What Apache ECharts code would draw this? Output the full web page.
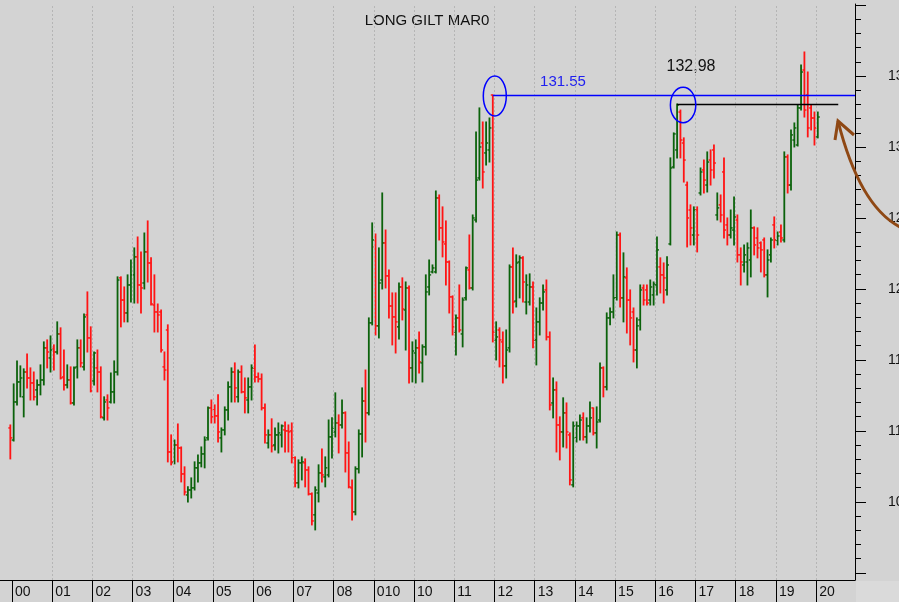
<!DOCTYPE html>
<html><head><meta charset="utf-8">
<script src="https://cdn.jsdelivr.net/npm/echarts@6/dist/echarts.min.js"></script>
<style>html,body{margin:0;padding:0;background:#d3d3d3;}#c{width:899px;height:602px;}</style>
</head><body><div id="c"></div>
<script>
const yearLabels = ['00','01','02','03','04','05','06','07','08','010','10','11','12','13','14','15','16','17','18','19','20'];
const yearStarts = [0,12,24,36,48,60,72,84,96,108,120,132,144,156,168,180,192,204,216,228,240];
const majorTicks = [100,105,110,115,120,125,130,135,140];
const tickLabels = [105,110,115,120,125,130,135];
const minorTicks = [101,102,103,104,106,107,108,109,111,112,113,114,116,117,118,119,121,122,123,124,126,127,128,129,131,132,133,134,136,137,138,139];
const firstMonth = -1; // Dec 1999
const blueText = '131.55';
const blackText = '132,98';
const titleText = 'LONG GILT MAR0';
const blueBar = 144, blackBar = 199;

const openV = [110.21,109.36,112.04,113.45,112.40,114.15,113.73,113.38,112.89,113.24,113.59,115.85,115.14,115.85,115.56,116.83,113.80,113.24,113.59,111.97,114.51,115.85,114.51,118.17,116.55,113.52,114.44,114.15,110.92,112.18,112.04,112.75,114.15,120.78,119.22,118.31,120.28,120.99,122.26,120.28,120.42,122.61,121.83,118.87,118.38,118.38,114.51,117.11,108.52,107.75,109.01,108.80,106.97,105.49,105.84,105.99,107.40,107.75,108.38,109.51,111.62,111.48,111.06,109.51,110.07,111.48,113.10,114.15,112.40,114.15,112.75,112.18,113.10,114.44,113.80,113.66,111.62,109.15,109.72,109.01,109.72,109.72,110.07,110.00,110.00,108.10,106.34,107.75,107.75,107.25,105.56,104.09,105.63,107.04,106.76,106.90,109.58,109.93,110.56,110.42,111.27,108.45,105.99,104.30,107.33,109.79,112.11,111.27,117.61,122.96,117.40,120.63,123.24,120.92,118.80,118.03,117.33,120.14,118.52,120.07,114.44,115.49,115.85,114.79,115.92,120.14,121.20,121.20,126.41,124.30,123.17,121.90,119.44,116.97,117.96,116.83,119.37,121.34,120.07,124.86,127.82,130.28,129.58,129.79,133.66,116.41,117.11,116.27,114.58,115.85,121.55,119.15,121.90,122.19,119.08,119.08,120.14,116.41,117.68,119.01,119.93,116.62,111.97,112.89,110.42,109.93,111.27,109.72,106.20,109.51,110.35,110.92,109.58,110.35,111.62,109.86,110.77,114.44,113.10,117.96,118.38,119.37,123.80,119.37,120.78,119.22,118.38,115.70,117.82,120.07,119.93,119.22,119.58,120.28,121.55,120.99,119.93,123.17,128.59,129.79,132.46,130.28,127.32,125.56,123.80,125.56,126.76,128.38,127.32,129.08,129.79,125.21,125.92,128.24,124.51,123.80,124.15,124.86,122.40,121.69,121.90,122.04,124.30,123.59,123.24,123.45,120.99,122.40,124.51,123.45,124.01,123.45,129.30,127.32,130.49,130.14,132.75,135.42,133.66,132.75,132.04,130.71];
const highV = [110.42,113.31,114.93,114.58,114.37,115.42,114.44,114.15,113.59,114.65,116.27,116.41,116.69,116.06,117.68,117.26,115.70,114.65,114.51,114.51,116.41,116.41,118.24,119.79,117.33,115.56,115.70,114.51,112.40,112.54,114.08,114.93,120.85,120.85,120.14,120.99,122.04,122.89,123.66,122.61,123.94,124.79,122.19,120.99,118.94,118.52,115.56,117.47,109.72,109.36,110.49,108.87,107.47,106.06,106.69,107.82,108.31,108.87,109.58,111.69,112.18,111.83,112.54,110.21,111.69,113.45,114.44,114.79,114.29,114.58,113.73,113.73,114.65,116.06,114.08,114.01,111.90,110.07,110.85,110.21,110.56,110.42,110.63,110.42,110.56,108.17,107.96,108.17,108.03,107.47,105.63,106.06,107.61,108.73,108.17,110.77,110.92,112.68,111.13,112.18,111.34,109.22,106.55,107.47,110.07,113.03,114.29,117.96,124.65,123.87,122.89,126.76,124.15,121.34,119.72,119.72,120.42,120.78,120.49,120.21,116.27,116.41,116.97,116.06,120.99,122.04,121.69,126.90,126.62,125.78,124.79,121.97,119.51,118.17,120.28,119.37,121.55,123.80,125.21,131.06,132.75,131.76,131.76,132.04,133.66,117.68,117.26,116.97,117.11,121.69,122.89,122.40,122.33,122.26,120.99,121.06,120.49,118.66,119.37,120.28,120.63,116.97,113.73,113.45,110.99,112.33,111.97,109.86,110.63,110.63,111.13,111.27,110.92,112.04,111.62,111.69,114.79,114.51,118.31,118.66,120.99,124.01,123.94,122.54,121.48,119.93,118.66,117.96,120.28,120.28,120.28,120.63,120.49,123.66,122.19,121.83,122.26,129.23,130.99,133.03,132.60,130.64,127.53,125.92,125.78,125.78,128.52,129.08,129.65,129.79,130.14,126.76,126.62,129.23,125.00,125.56,126.48,125.21,122.89,123.10,123.24,125.56,124.37,124.30,123.31,123.59,122.75,123.59,125.07,124.01,124.51,129.65,129.44,131.20,131.69,132.96,135.77,136.69,135.28,132.96,132.46,132.46];
const lowV = [108.03,109.29,111.83,112.40,110.99,113.03,112.18,112.18,111.83,112.54,113.24,114.44,114.15,114.29,115.42,113.66,112.89,113.03,111.90,111.83,113.73,114.51,114.29,115.56,112.75,113.24,112.75,110.92,110.77,110.77,111.97,111.97,113.94,117.33,117.68,117.68,119.08,119.01,119.01,118.31,120.00,120.49,118.87,116.97,116.97,115.56,113.59,107.82,107.61,107.68,107.82,106.41,105.49,105.00,105.28,105.84,106.41,107.47,107.40,109.36,110.56,110.56,109.22,108.52,109.72,110.77,112.04,112.04,112.04,112.68,111.27,111.27,112.18,113.45,113.45,111.48,109.15,108.80,108.52,108.66,108.45,108.87,108.52,108.52,107.75,106.06,105.99,106.55,106.06,105.49,103.38,103.03,105.00,106.41,106.06,106.76,108.10,109.58,108.45,110.21,107.11,105.99,103.73,104.09,107.04,108.17,109.22,111.13,117.47,116.76,116.55,120.00,120.07,117.96,116.06,115.49,116.48,117.82,115.70,113.38,113.45,113.38,114.08,113.45,115.35,119.58,121.13,121.13,123.45,122.26,120.28,118.31,116.76,115.35,116.97,115.92,119.22,120.00,119.93,124.72,127.67,127.11,128.73,128.94,116.27,115.00,114.51,113.38,113.73,115.56,118.31,118.73,119.37,119.08,118.24,118.87,115.85,114.65,116.76,118.52,116.41,111.48,110.92,108.52,107.96,108.87,108.80,106.20,106.06,109.22,109.36,109.36,109.15,109.93,109.72,108.80,110.63,112.40,112.89,117.47,117.96,119.22,118.73,117.68,116.90,116.06,114.86,114.44,117.11,118.87,118.87,118.87,118.87,119.58,119.72,119.01,119.58,123.10,128.52,129.23,129.23,127.53,122.96,123.10,123.10,122.61,126.62,126.76,126.83,127.32,127.82,124.86,124.72,123.59,123.10,123.59,123.10,121.90,120.28,121.20,120.28,120.85,122.40,122.19,121.20,120.85,119.44,121.90,122.89,123.10,123.31,123.31,126.76,126.97,130.00,130.07,132.60,132.11,130.71,131.20,130.14,130.64];
const closeV = [109.51,112.04,113.45,113.73,114.15,113.73,113.38,112.40,113.24,113.59,115.85,115.56,115.70,115.56,116.83,113.73,113.24,113.59,111.97,114.44,115.85,114.79,118.03,116.55,112.82,115.49,114.15,110.99,112.04,111.62,112.75,114.15,120.63,119.22,118.31,120.28,120.99,122.26,120.28,120.07,122.61,121.83,118.94,118.38,118.17,115.70,114.29,108.52,107.82,109.01,108.80,106.97,105.70,105.84,105.99,107.40,107.75,108.38,109.36,111.62,110.99,111.06,109.93,110.07,111.48,113.10,114.15,113.03,114.15,112.75,112.33,113.10,114.44,113.80,113.66,111.62,109.72,109.72,108.94,109.72,109.86,110.35,110.00,109.93,108.10,106.34,107.75,107.82,107.25,105.56,103.66,105.84,107.04,106.90,107.40,109.58,110.21,110.56,110.42,111.27,108.45,106.06,104.30,107.33,109.79,112.11,111.27,117.61,123.45,117.40,120.42,123.24,120.92,118.80,118.03,117.68,120.14,118.59,120.07,114.44,115.63,115.85,114.86,115.92,119.79,120.99,121.48,126.41,124.30,123.31,121.90,119.44,117.33,117.96,117.11,119.22,121.48,120.07,125.00,127.67,130.00,128.24,130.28,131.34,116.97,116.62,116.41,114.58,115.70,121.55,119.08,121.83,122.19,120.49,120.28,120.14,116.41,117.68,119.01,119.79,116.62,111.83,112.89,110.42,109.93,111.27,109.93,106.55,110.35,110.35,110.77,109.58,110.35,110.92,109.86,110.63,114.44,113.10,117.96,118.38,119.37,123.80,119.37,120.85,119.22,117.96,115.70,117.40,119.93,119.22,119.01,120.14,120.35,122.75,120.99,120.78,121.69,128.52,130.92,132.96,130.49,129.08,125.00,124.30,125.56,123.80,128.24,127.67,128.94,128.38,128.87,125.71,125.21,124.15,123.80,124.30,125.07,122.40,121.90,122.40,122.89,124.30,123.10,122.89,122.75,120.99,122.04,123.45,123.45,123.73,123.59,129.30,127.32,130.85,131.34,132.75,135.28,132.60,131.34,132.04,131.34,132.11];

const GREEN = '#0b620b', RED = '#ff1414';
const data = openV.map((o, i) => [firstMonth + i + 0.5, o, highV[i], lowV[i], closeV[i]]);
const X_MIN = -3.58, X_MAX = 251.6;

const chart = echarts.init(document.getElementById('c'), null, {renderer: 'canvas'});
const font = 'Liberation Sans, Arial, sans-serif';

const option = {
  animation: false,
  backgroundColor: '#d3d3d3',
  grid: {left: 0, right: 44, top: 4, bottom: 22, containLabel: false, outerBoundsMode: 'none'},
  xAxis: {
    type: 'value', min: X_MIN, max: X_MAX, position: 'bottom',
    axisLine: {show: true, onZero: false, lineStyle: {color: '#000', width: 1}},
    axisTick: {show: true, customValues: yearStarts, length: 22, inside: false, lineStyle: {color: '#000', width: 1}},
    axisLabel: {show: true, customValues: yearStarts, align: 'left', verticalAlign: 'top', margin: 5,
      padding: [0, 0, 0, 3], fontSize: 14, fontFamily: font, color: '#111',
      formatter: v => yearLabels[yearStarts.indexOf(Math.round(v))]},
    splitLine: {show: false}
  },
  yAxis: [{
    type: 'value', min: 99.5, max: 140.07, position: 'right',
    axisLine: {show: true, onZero: false, lineStyle: {color: '#000', width: 1}},
    axisTick: {show: true, customValues: majorTicks, length: 11, inside: false, lineStyle: {color: '#000', width: 1}},
    axisLabel: {show: true, customValues: tickLabels, margin: 33, fontSize: 14, fontFamily: font, color: '#111'},
    splitLine: {show: false}
  }, {
    type: 'value', min: 99.5, max: 140.07, position: 'right', offset: 0,
    axisLine: {show: false, onZero: false},
    axisTick: {show: true, customValues: minorTicks, length: 6, inside: false, lineStyle: {color: '#000', width: 1}},
    axisLabel: {show: false},
    splitLine: {show: false}
  }],
  series: [{
    type: 'line', data: [], silent: true, z: 1,
    markLine: {
      silent: true, symbol: 'none', animation: false, label: {show: false},
      lineStyle: {color: '#b5b5b5', type: [2, 2], width: 1},
      data: yearStarts.slice(1).map(v => ({xAxis: v}))
    }
  }, {
    type: 'custom', z: 3, clip: true,
    data: data,
    encode: {x: 0, y: [1, 2, 3, 4]},
    renderItem: function (params, api) {
      const x = api.value(0);
      const o = api.coord([x, api.value(1)]);
      const h = api.coord([x, api.value(2)]);
      const l = api.coord([x, api.value(3)]);
      const c = api.coord([x, api.value(4)]);
      const col = api.value(4) >= api.value(1) ? GREEN : RED;
      return {type: 'group', children: [
        {type: 'line', shape: {x1: h[0], y1: h[1] - 0.5, x2: l[0], y2: l[1] + 0.5}, style: {stroke: col, lineWidth: 1.8}},
        {type: 'line', shape: {x1: o[0] - 2, y1: o[1], x2: o[0], y2: o[1]}, style: {stroke: col, lineWidth: 1.4}},
        {type: 'line', shape: {x1: c[0], y1: c[1], x2: c[0] + 2, y2: c[1]}, style: {stroke: col, lineWidth: 1.4}}
      ]};
    }
  }, {
    type: 'line', data: [], silent: true, z: 4,
    markLine: {
      silent: true, symbol: 'none', animation: false, label: {show: false},
      data: [
        [{coord: [data[blueBar][0], highV[blueBar]], lineStyle: {color: '#0000ff', width: 1.3, type: 'solid'}},
         {coord: [X_MAX, highV[blueBar]]}],
        [{coord: [data[blackBar][0], highV[blackBar]], lineStyle: {color: '#000', width: 1.3, type: 'solid'}},
         {coord: [246.6, highV[blackBar]]}]
      ]
    }
  }]
};
chart.setOption(option);

const p1 = chart.convertToPixel({xAxisIndex: 0, yAxisIndex: 0}, [data[blueBar][0], highV[blueBar]]);
const p2 = chart.convertToPixel({xAxisIndex: 0, yAxisIndex: 0}, [data[blackBar][0], highV[blackBar]]);

chart.setOption({
  graphic: [
    {type: 'rect', shape: {x: 856, y: 581, width: 44, height: 21}, style: {fill: '#dadada'}, z: 0, silent: true},
    {type: 'text', x: 427, y: 21, style: {text: titleText, font: '15px ' + font, fill: '#111', align: 'center', verticalAlign: 'middle'}},
    {type: 'text', x: 563, y: 82, style: {text: blueText, font: '15px ' + font, fill: '#2020f0', align: 'center', verticalAlign: 'middle'}},
    {type: 'text', x: 691, y: 67, style: {text: blackText, font: '16px ' + font, fill: '#111', align: 'center', verticalAlign: 'middle'}},
    {type: 'ellipse', shape: {cx: p1[0] + 2, cy: p1[1] + 1, rx: 11.5, ry: 20}, style: {fill: 'none', stroke: '#0000ff', lineWidth: 1.5}, z: 10},
    {type: 'ellipse', shape: {cx: p2[0] + 6, cy: p2[1] + 1, rx: 12.7, ry: 17.7}, style: {fill: 'none', stroke: '#0000ff', lineWidth: 1.5}, z: 10},
    {type: 'bezierCurve', shape: {x1: 838, y1: 121, cpx1: 859.5, cpy1: 206, x2: 900, y2: 227}, style: {fill: 'none', stroke: '#8f4814', lineWidth: 3}, z: 10},
    {type: 'polyline', shape: {points: [[835, 140], [838, 121], [854, 135]]}, style: {fill: 'none', stroke: '#8f4814', lineWidth: 3}, z: 10}
  ]
});
</script>
</body></html>
